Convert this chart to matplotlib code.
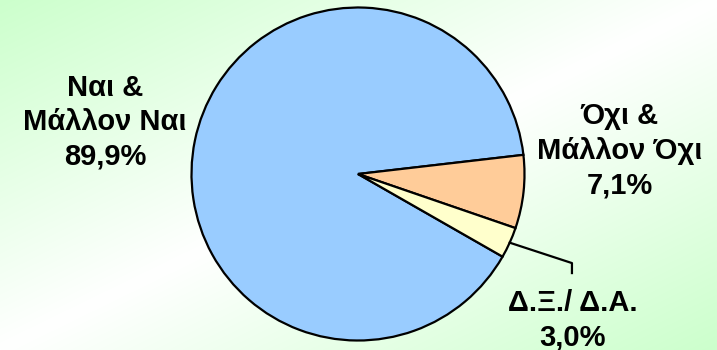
import numpy as np
import matplotlib
matplotlib.use("Agg")
import matplotlib.pyplot as plt

# --- data ---
labels = ["Ναι &\nΜάλλον Ναι", "Όχι &\nΜάλλον Όχι", "Δ.Ξ./ Δ.Α."]
values = [89.9, 7.1, 3.0]
colors = ["#99CCFF", "#FFCC99", "#FFFFCC"]

W, H = 717, 350
fig = plt.figure(figsize=(W / 100, H / 100), dpi=100)

# diagonal background gradient: green corners, white band in the middle
bg = fig.add_axes([0, 0, 1, 1], zorder=0)
xx, yy = np.meshgrid(np.linspace(0, 1, W), np.linspace(0, 1, H))
t = (xx + yy) / 2
k = 1 - np.abs(2 * t - 1)            # 0 at corners, 1 in the middle
green = np.array([0.80, 1.0, 0.80])
white = np.array([1.0, 1.0, 1.0])
img = green + (white - green) * k[..., None]
bg.imshow(img, aspect="auto", extent=[0, 1, 0, 1])
bg.axis("off")

# pie
r_px = 166.5
cx, cy = 358, 174
ax = fig.add_axes([(cx - r_px) / W, (H - cy - r_px) / H, 2 * r_px / W, 2 * r_px / H], zorder=1)
ax.patch.set_alpha(0)
start = 6.6 + values[0] * 3.6
wedges, _ = ax.pie(values, colors=colors, startangle=start, counterclock=False,
                   wedgeprops=dict(edgecolor="black", linewidth=1.6))
ax.set_xlim(-1, 1)
ax.set_ylim(-1, 1)
ax.set_aspect("equal")
ax.axis("off")

font = dict(family=["Liberation Sans", "DejaVu Sans"], fontsize=21, fontweight="bold",
            ha="center", va="center", linespacing=1.3)
pct = [f"{v:.1f}%".replace(".", ",") for v in values]

ax.text(-1.52, 0.31, f"{labels[0]}\n{pct[0]}", clip_on=False, **font)
ax.text(1.57, 0.14, f"{labels[1]}\n{pct[1]}", clip_on=False, **font)
ax.text(1.29, -0.88, f"{labels[2]}\n{pct[2]}", clip_on=False, **font)

# leader line for the small slice
w = wedges[2]
mid = np.deg2rad((w.theta1 + w.theta2) / 2)
ax.plot([np.cos(mid), 1.285, 1.285], [np.sin(mid), -0.535, -0.595],
        color="black", lw=1.6, clip_on=False)

fig.savefig("out.png", dpi=100)
